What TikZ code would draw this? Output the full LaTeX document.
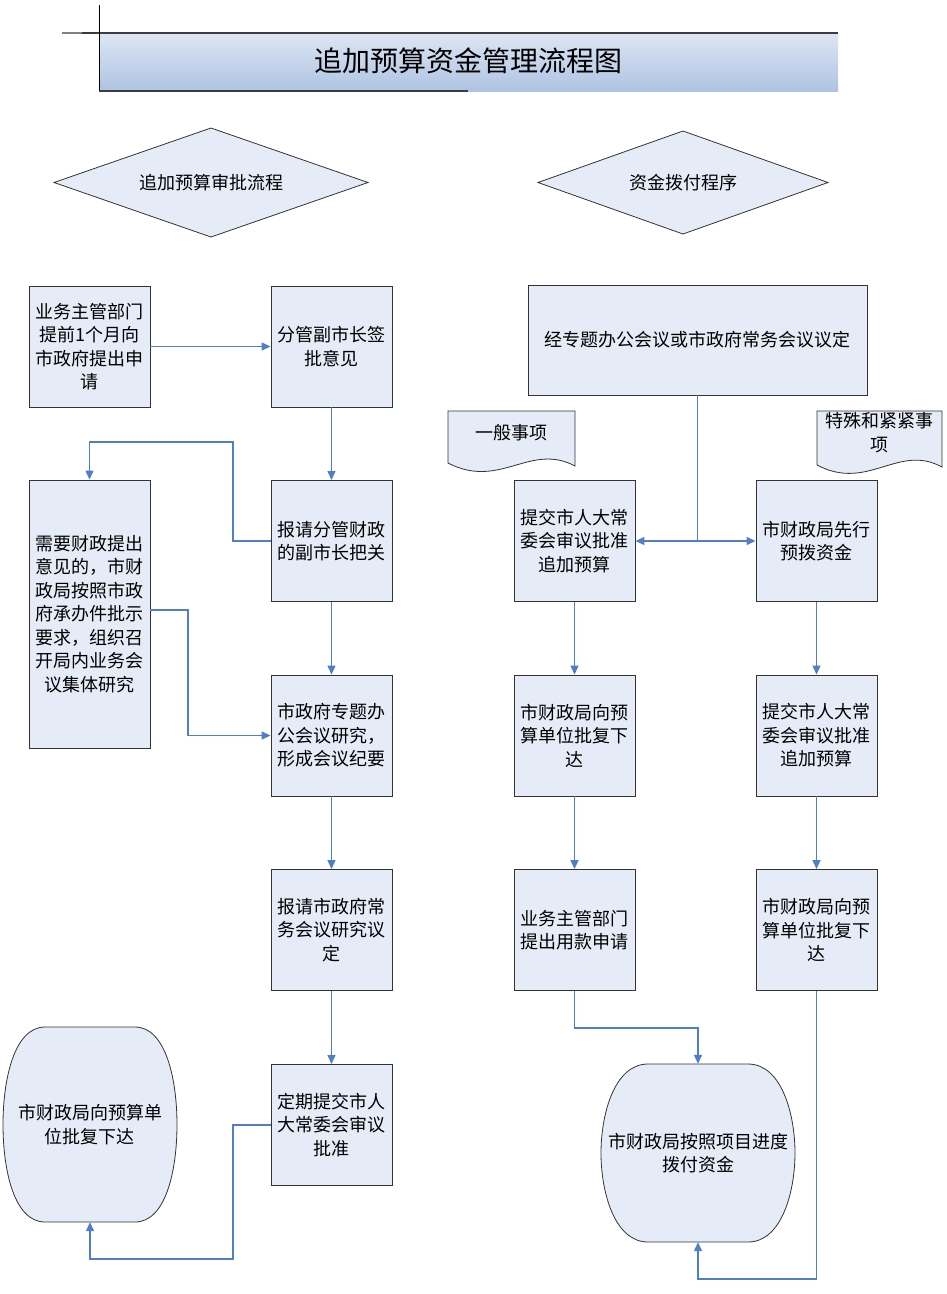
\documentclass[tikz,border=0pt]{standalone}
\usepackage{fontspec}
\setmainfont{Noto Sans CJK SC}
\usetikzlibrary{arrows.meta,shapes.geometric}
\definecolor{boxfill}{HTML}{E6ECF7}
\definecolor{linkblue}{HTML}{4F7FC6}
\definecolor{edgegray}{HTML}{333333}
\begin{document}
\begin{tikzpicture}[x=1pt,y=-1pt,
  proc/.style={draw=edgegray, line width=0.9pt, fill=boxfill, minimum width=121pt, minimum height=121pt, inner sep=0pt, align=center, font=\fontsize{18}{23.5}\selectfont},
  shapeline/.style={draw=edgegray, line width=0.8pt, fill=boxfill},
  txt/.style={align=center, inner sep=0pt, font=\fontsize{18}{23.5}\selectfont},
  link/.style={draw=linkblue, line width=1.2pt, -{Triangle[length=9pt,width=8pt]}},
  plainlink/.style={draw=linkblue, line width=1.2pt}]
\useasboundingbox (0,0) rectangle (946,1294);
\fill[white] (0,0) rectangle (946,1294);
% title
\shade[top color={rgb,255:red,221;green,230;blue,243}, bottom color={rgb,255:red,174;green,195;blue,226}] (99,33) rectangle (838,91);
\draw[line width=2pt, color={rgb,255:red,128;green,128;blue,128}] (62,33) -- (82,33);
\draw[line width=2pt, color={rgb,255:red,60;green,60;blue,60}] (82,33) -- (838,33);
\draw[line width=0.8pt, black] (99,5) -- (99,91);
\draw[line width=2pt, color={rgb,255:red,60;green,60;blue,60}] (99,91) -- (468,91);
\node[inner sep=0pt, font=\fontsize{28}{32}\selectfont] (title) at (468,61) {追加预算资金管理流程图};
% diamonds
\path[shapeline] (54,182.5) -- (211,128) -- (368,182.5) -- (211,237) -- cycle;
\node[txt] (dl) at (211,182.5) {追加预算审批流程};
\path[shapeline] (538,182.5) -- (683,131) -- (828,182.5) -- (683,234) -- cycle;
\node[txt] (dr) at (683,182.5) {资金拨付程序};
% left column
\node[proc] (A) at (89.5,346.5) {业务主管部门\\提前1个月向\\市政府提出申\\请};
\node[proc] (B) at (331.5,346.5) {分管副市长签\\批意见};
\node[proc] (C) at (331.5,541) {报请分管财政\\的副市长把关};
\node[proc, minimum height=268pt] (D) at (89.5,614) {需要财政提出\\意见的，市财\\政局按照市政\\府承办件批示\\要求，组织召\\开局内业务会\\议集体研究};
\node[proc] (E) at (331.5,735.5) {市政府专题办\\公会议研究，\\形成会议纪要};
\node[proc] (F) at (331.5,930) {报请市政府常\\务会议研究议\\定};
\node[proc] (G) at (331.5,1125) {定期提交市人\\大常委会审议\\批准};
% left terminal
\path[shapeline] (45,1027) -- (135,1027) .. controls (166,1027) and (177,1080) .. (177,1124.5) .. controls (177,1170) and (166,1222) .. (135,1222) -- (45,1222) .. controls (14,1222) and (3,1170) .. (3,1124.5) .. controls (3,1080) and (14,1027) .. (45,1027) -- cycle;
\node[txt, minimum width=174pt, minimum height=195pt] (H) at (90,1124.5) {市财政局向预算单\\位批复下达};
% right column
\node[proc, minimum width=339pt, minimum height=110pt] (R0) at (697.5,340) {经专题办公会议或市政府常务会议议定};
\path[shapeline] (448,411) -- (575,411) -- (575,466) .. controls (530,442) and (500,490) .. (448,463) -- cycle;
\node[txt] (doc1) at (511.5,433) {一般事项};
\path[shapeline] (817,411) -- (942,411) -- (942,467) .. controls (898,443) and (868,492) .. (817,465) -- cycle;
\node[txt] (doc2) at (879.5,432.5) {特殊和紧紧事\\项};
\node[proc] (R1) at (574.5,541) {提交市人大常\\委会审议批准\\追加预算};
\node[proc] (R2) at (816.5,541) {市财政局先行\\预拨资金};
\node[proc] (R3) at (574.5,735.5) {市财政局向预\\算单位批复下\\达};
\node[proc] (R4) at (816.5,735.5) {提交市人大常\\委会审议批准\\追加预算};
\node[proc] (R5) at (574.5,930) {业务主管部门\\提出用款申请};
\node[proc] (R6) at (816.5,930) {市财政局向预\\算单位批复下\\达};
% right terminal
\path[shapeline] (648,1064) -- (748,1064) .. controls (782,1064) and (795,1115) .. (795,1153) .. controls (795,1191) and (782,1242) .. (748,1242) -- (648,1242) .. controls (614,1242) and (601,1191) .. (601,1153) .. controls (601,1115) and (614,1064) .. (648,1064) -- cycle;
\node[txt, minimum width=194pt, minimum height=178pt] (T2) at (698,1153) {市财政局按照项目进度\\拨付资金};
% connectors left
\draw[link] (A.east) -- (B.west);
\draw[link] (B.south) -- (C.north);
\draw[link] (C.west) -- (233,541) -- (233,442) -- (89.5,442) -- (D.north);
\draw[link] ([yshift=4pt]D.east) -- (188,610) -- (188,735.5) -- (E.west);
\draw[link] (C.south) -- (E.north);
\draw[link] (E.south) -- (F.north);
\draw[link] (F.south) -- (G.north);
\draw[link] (G.west) -- (233,1125) -- (233,1259) -- (90,1259) -- (H.south);
% connectors right
\coordinate (j) at (697.5,541);
\draw[plainlink] (R0.south) -- (j);
\draw[link] (j) -- (R1.east);
\draw[link] (j) -- (R2.west);
\draw[link] (R1.south) -- (R3.north);
\draw[link] (R3.south) -- (R5.north);
\draw[link] (R2.south) -- (R4.north);
\draw[link] (R4.south) -- (R6.north);
\draw[link] (R5.south) -- (574.5,1028) -- (698,1028) -- (T2.north);
\draw[link] (R6.south) -- (816.5,1279) -- (698,1279) -- (T2.south);
\end{tikzpicture}
\end{document}
